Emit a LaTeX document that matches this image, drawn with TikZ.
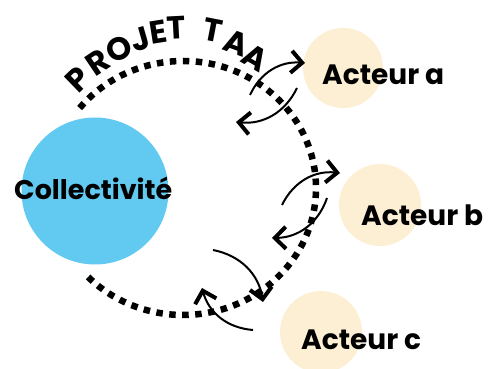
\documentclass[tikz,border=0pt]{standalone}
\usepackage{fontspec}
\setmainfont{Poppins}
\usetikzlibrary{arrows.meta,positioning}
\definecolor{bleuColl}{RGB}{98,202,241}
\definecolor{beigeAct}{RGB}{252,239,212}

\begin{document}
\begin{tikzpicture}[x=1pt,y=1pt,
  rond/.style={circle,inner sep=0pt},
  txt/.style={font=\fontsize{28}{28}\selectfont\bfseries,inner sep=0pt,anchor=west},
  lettre/.style={font=\fontsize{32}{32}\selectfont\bfseries,inner sep=0pt},
  echange/.style={line width=2pt,-{Straight Barb[length=11pt,width=22pt,line width=4pt]},bend left=35},
  pointille/.style={line width=6.5pt,dash pattern=on 6.5pt off 6.5pt}]
\useasboundingbox (0,0) rectangle (488,369);
% les acteurs
\node[rond,fill=beigeAct,minimum size=80pt] (acta) at (343,301) {};
\node[rond,fill=beigeAct,minimum size=82pt] (actb) at (380,164) {};
\node[rond,fill=beigeAct,minimum size=82pt] (actc) at (321,37) {};
\node[txt] (ta) at (322,294) {Acteur a};
\node[txt] (tb) at (361,154) {Acteur b};
\node[txt] (tc) at (301,29) {Acteur c};

% grand cercle pointille
\draw[pointille] (183,181) ++(141:133 and 127) arc[start angle=141,end angle=-136,x radius=133,y radius=127];
% titre courbe, lettre par lettre
\foreach \l/\x/\y/\r [count=\i] in {P/78/290/44, R/98/307/34, O/119/320/25,
    J/140/330/16, E/158/337/9, T/176/341/3, T/213/339/-11, A/236/326/-20, A/255/311/-30}
  \node[lettre,rotate=\r] (titre\i) at (\x,\y) {\l};

% la collectivite
\node[rond,fill=bleuColl,minimum size=147pt] (coll) at (95,178) {};
\node[txt,font=\fontsize{27}{27}\selectfont\bfseries] (tcoll) at (14,181) {Collectivité};

% echanges
\coordinate (a1) at (250,274); \coordinate (a2) at (305,306);
\coordinate (a3) at (297,281); \coordinate (a4) at (236,247);
\coordinate (b1) at (282,164); \coordinate (b2) at (340,196);
\coordinate (b3) at (327,171); \coordinate (b4) at (272,131);
\coordinate (c1) at (213,119); \coordinate (c2) at (263,67);
\coordinate (c3) at (253,39);  \coordinate (c4) at (202,81);
\draw[echange] (a1) to (a2);
\draw[echange] (a3) to (a4);
\draw[echange] (b1) to (b2);
\draw[echange] (b3) to (b4);
\draw[echange] (c1) to (c2);
\draw[echange] (c3) to (c4);
\end{tikzpicture}
\end{document}
